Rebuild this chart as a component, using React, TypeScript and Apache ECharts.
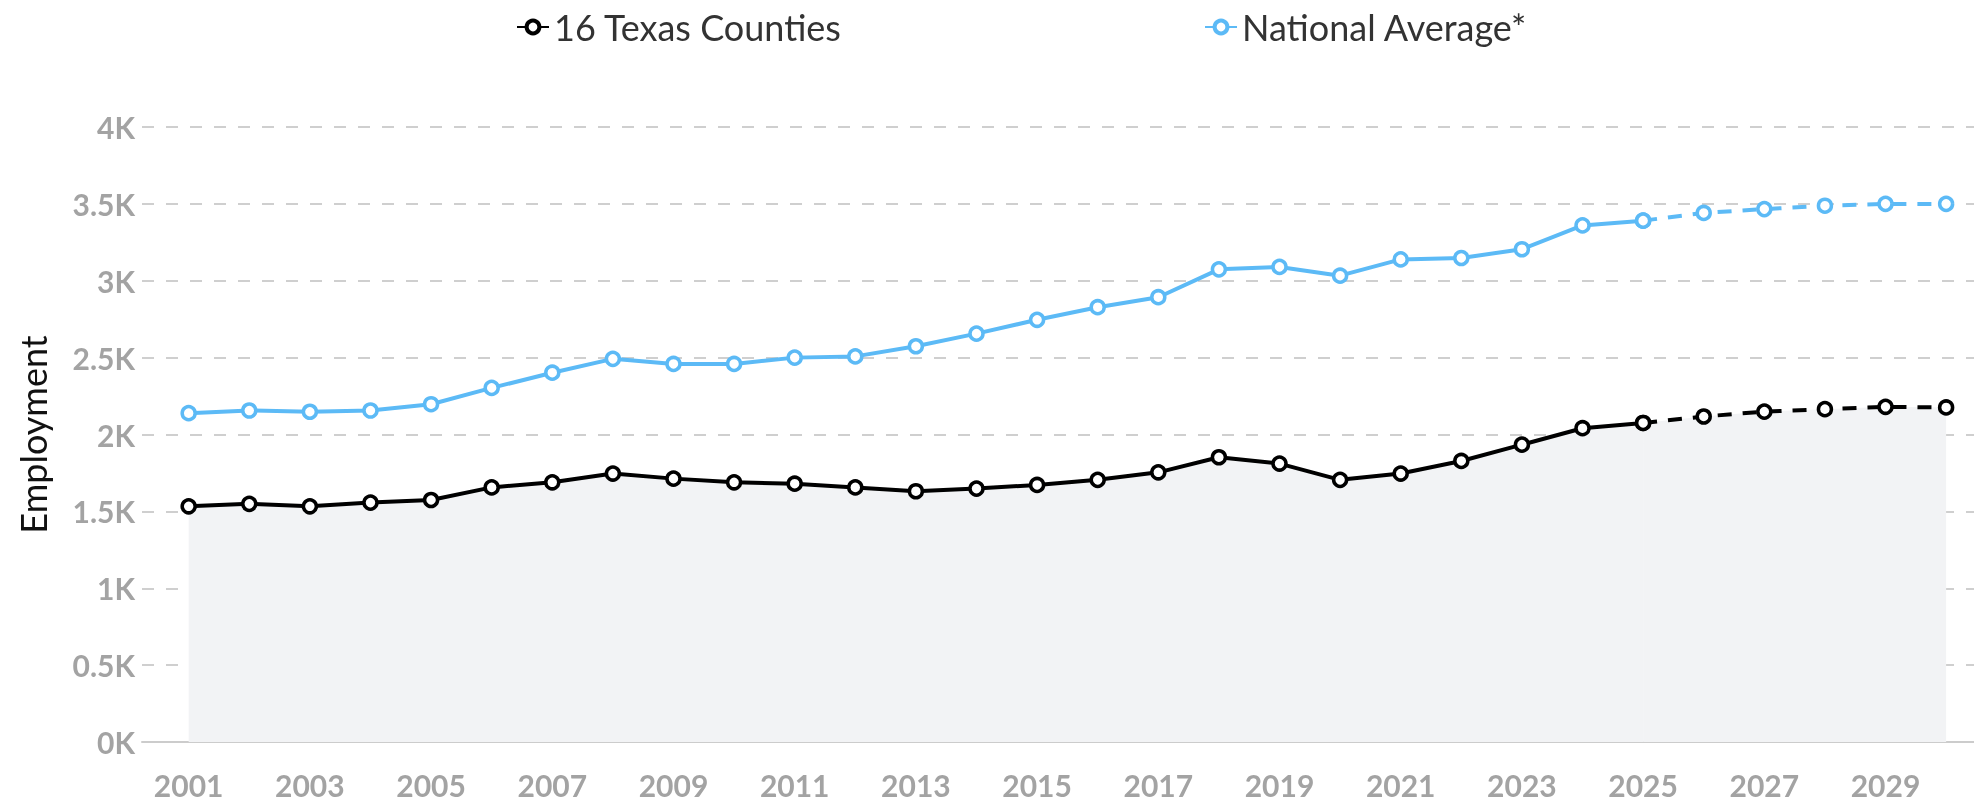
import React, { useEffect, useRef } from "react";
import * as echarts from "echarts";

const years = [2001, 2002, 2003, 2004, 2005, 2006, 2007, 2008, 2009, 2010, 2011, 2012, 2013, 2014, 2015, 2016, 2017, 2018, 2019, 2020, 2021, 2022, 2023, 2024, 2025, 2026, 2027, 2028, 2029, 2030];
const texas = [1533, 1549, 1533, 1557, 1574, 1656, 1689, 1746, 1713, 1689, 1680, 1656, 1631, 1648, 1672, 1705, 1754, 1852, 1811, 1705, 1746, 1828, 1934, 2041, 2075, 2117, 2149, 2165, 2180, 2176];
const national = [2139, 2156, 2148, 2156, 2197, 2303, 2402, 2492, 2459, 2459, 2500, 2508, 2574, 2656, 2746, 2828, 2893, 3074, 3090, 3033, 3139, 3148, 3205, 3360, 3391, 3441, 3466, 3488, 3500, 3500];
const labelYears = [2001, 2003, 2005, 2007, 2009, 2011, 2013, 2015, 2017, 2019, 2021, 2023, 2025, 2027, 2029];
const lastActualYear = 2025;
const seriesNames = ["16 Texas Counties", "National Average*"];

const FONT = "Lato";
const BLUE = "#5cbaf6";
const BLACK = "#000000";

function pairs(vals: number[], from: number, to: number) {
  const out: number[][] = [];
  years.forEach((y, i) => {
    if (y >= from && y <= to) out.push([y, vals[i]]);
  });
  return out;
}

export default function App() {
  const ref = useRef<HTMLDivElement>(null);
  useEffect(() => {
    if (!ref.current) return;
    const chart = echarts.init(ref.current, null, { renderer: "svg" });
    const mk = (name: string, vals: number[], color: string, dashed: boolean, area: boolean) => ({
      name,
      type: "line",
      data: dashed ? pairs(vals, lastActualYear, 2030) : pairs(vals, 2001, lastActualYear),
      symbol: "circle",
      symbolSize: 13,
      showSymbol: true,
      itemStyle: { color: "#ffffff", borderColor: color, borderWidth: 3.5 },
      lineStyle: { color, width: 4, type: dashed ? [14, 11] : "solid" },
      areaStyle: area ? { color: "#f2f3f5", opacity: 1 } : undefined,
      z: area ? 2 : 3,
    });
    chart.setOption({
      animation: false,
      textStyle: { fontFamily: FONT },
      legend: {
        data: seriesNames.map((n, i) => ({ name: n, itemStyle: { color: "#ffffff", borderColor: i === 0 ? BLACK : BLUE, borderWidth: 4 } })),
        left: 511,
        top: 4,
        itemGap: 362,
        itemWidth: 32,
        itemHeight: 16,
        textStyle: { fontFamily: FONT, fontSize: 36, color: "#333333" },
      },
      grid: { left: 142, right: 0, top: 127, bottom: 63, containLabel: false },
      xAxis: {
        type: "value",
        min: 2000.23,
        max: 2030.46,
        axisLine: { show: true, lineStyle: { color: "#cccccc", width: 2 } },
        axisTick: { show: false },
        splitLine: { show: false },
        axisLabel: {
          customValues: labelYears,
          formatter: (v: number) => String(v),
          fontFamily: FONT,
          fontSize: 30,
          fontWeight: "bold",
          color: "#a3a3a3",
          margin: 28,
        },
      },
      yAxis: {
        type: "value",
        min: 0,
        max: 4000,
        interval: 500,
        name: "Employment",
        nameLocation: "middle",
        nameGap: 91,
        nameTextStyle: { fontFamily: FONT, fontSize: 36, color: "#111111" },
        axisLine: { show: false },
        axisTick: { show: false },
        splitLine: { show: true, lineStyle: { color: "#cfcfcf", width: 2, type: [12, 12] } },
        axisLabel: {
          formatter: (v: number) => v / 1000 + "K",
          fontFamily: FONT,
          fontSize: 30,
          fontWeight: "bold",
          color: "#a3a3a3",
          margin: 7,
        },
      },
      series: [
        mk(seriesNames[0], texas, BLACK, false, true),
        mk(seriesNames[0], texas, BLACK, true, true),
        mk(seriesNames[1], national, BLUE, false, false),
        mk(seriesNames[1], national, BLUE, true, false),
      ],
    });
    return () => chart.dispose();
  }, []);
  return <div ref={ref} style={{ position: "fixed", left: 0, top: 0, width: 1974, height: 805 }} />;
}
